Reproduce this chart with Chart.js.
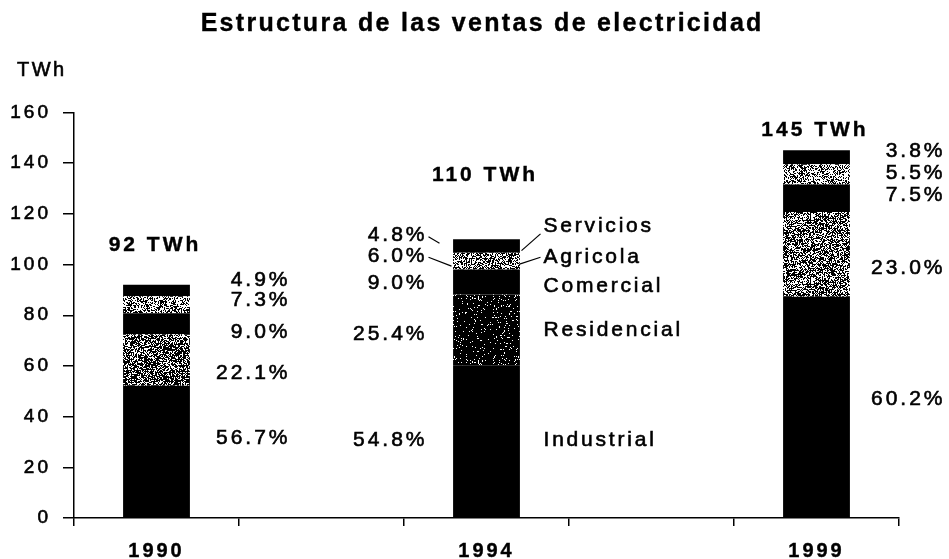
<!DOCTYPE html>
<html>
<head>
<meta charset="utf-8">
<script src="https://cdn.jsdelivr.net/npm/chart.js@4.4.1/dist/chart.umd.min.js"></script>
<style>
    html, body { margin: 0; padding: 0; background: #fff; }
</style>
</head>
<body>
<canvas id="ventasChart" width="949" height="559"></canvas>
<script>
// Datos (TWh por sector), con huecos entre los años
const years = ["1990", "", "1994", "", "1999"];
const totalLabels = ["92 TWh", "", "110 TWh", "", "145 TWh"];
const industrial = [52.2, null, 60.3, null, 87.3];
const residencial = [20.3, null, 27.9, null, 33.4];
const comercial = [8.3, null, 9.9, null, 10.9];
const agricola = [6.7, null, 6.6, null, 8.0];
const servicios = [4.5, null, 5.3, null, 5.5];

// Porcentajes mostrados junto a cada barra
const industrialPct = ["56.7%", "", "54.8%", "", "60.2%"];
const residencialPct = ["22.1%", "", "25.4%", "", "23.0%"];
const comercialPct = ["9.0%", "", "9.0%", "", "7.5%"];
const agricolaPct = ["7.3%", "", "6.0%", "", "5.5%"];
const serviciosPct = ["4.9%", "", "4.8%", "", "3.8%"];
const sectorNames = ["Industrial", "Residencial", "Comercial", "Agricola", "Servicios"];

const yTicks = [0, 20, 40, 60, 80, 100, 120, 140, 160];

// Posicion de las etiquetas (en unidades del eje y) y desplazamiento horizontal
const pctLevels = {
    0: [31.5, 57.1, 73.5, 86.0, 93.9],
    2: [30.8, 72.4, 92.8, 103.3, 111.7],
    4: [47.0, 98.5, 127.5, 136.0, 144.6],
};
const pctOffset = { 0: 131, 2: -62, 4: 126 };
const nameLevels = [30.8, 74.2, 91.6, 103.1, 115.0];
const totalLevels = { 0: 107.7, 2: 135.4, 4: 153.1 };

const canvas = document.getElementById("ventasChart");
const ctx = canvas.getContext("2d");

// Textura moteada para Residencial y Agricola
function speckle(whiteShare, seed) {
    const size = 64;
    const c = document.createElement("canvas");
    c.width = size;
    c.height = size;
    const g = c.getContext("2d");
    const img = g.createImageData(size, size);
    let h = seed;
    for (let i = 0; i < size * size; i++) {
        h = (h * 16807) % 2147483647;
        const v = h / 2147483647 < whiteShare ? 255 : 0;
        img.data[i * 4] = v;
        img.data[i * 4 + 1] = v;
        img.data[i * 4 + 2] = v;
        img.data[i * 4 + 3] = 255;
    }
    g.putImageData(img, 0, 0);
    return ctx.createPattern(c, "repeat");
}

const resFill = [speckle(0.36, 11), null, speckle(0.07, 23), null, speckle(0.42, 37)];
const agrFill = [speckle(0.55, 41), null, speckle(0.5, 53), null, speckle(0.55, 67)];

const FONT = "'Liberation Sans', Arial, sans-serif";

function text(c, str, x, y, size, bold, align, spacing) {
    c.save();
    c.font = (bold ? "bold " : "") + size + "px " + FONT;
    c.letterSpacing = spacing + "px";
    c.fillStyle = "#000";
    c.strokeStyle = "#000";
    c.lineWidth = bold ? 0.4 : 0.6;
    c.textAlign = align;
    c.textBaseline = "middle";
    // compensar el espacio final que agrega letterSpacing
    let dx = 0;
    if (align === "center") dx = spacing / 2;
    if (align === "right") dx = spacing;
    c.fillText(str, x + dx, y);
    c.strokeText(str, x + dx, y);
    c.restore();
}

const labelsPlugin = {
    id: "labelsPlugin",
    beforeDraw(chart) {
        chart.ctx.letterSpacing = "3px";
    },
    afterDraw(chart) {
        const c = chart.ctx;
        const xs = chart.scales.x;
        const ys = chart.scales.y;

        text(c, "Estructura de las ventas de electricidad", 481, 24, 25, true, "center", 2.3);
        text(c, "TWh", 17, 70, 20, false, "left", 2.5);

        const pctSets = [industrialPct, residencialPct, comercialPct, agricolaPct, serviciosPct];
        [0, 2, 4].forEach((i) => {
            const cx = xs.getPixelForValue(i);
            text(c, totalLabels[i], cx - 3, ys.getPixelForValue(totalLevels[i]), 21, true, "center", 3);
            pctSets.forEach((set, k) => {
                text(c, set[i], cx + pctOffset[i], ys.getPixelForValue(pctLevels[i][k]), 21, false, "right", 3);
            });
        });

        // nombres de sectores junto a 1994
        const c94 = xs.getPixelForValue(2);
        sectorNames.forEach((name, k) => {
            text(c, name, c94 + 57, ys.getPixelForValue(nameLevels[k]), 21, false, "left", 2.8);
        });

        // lineas guia
        const leaders = [
            [-58, 111.0, -47, 108.4],
            [-58, 102.9, -35, 99.4],
            [54, 112.1, 35, 105.5],
            [54, 102.9, 33, 100.2],
        ];
        c.save();
        c.strokeStyle = "#000";
        c.lineWidth = 1.2;
        leaders.forEach(([x1, v1, x2, v2]) => {
            c.beginPath();
            c.moveTo(c94 + x1, ys.getPixelForValue(v1));
            c.lineTo(c94 + x2, ys.getPixelForValue(v2));
            c.stroke();
        });
        c.restore();
    },
};

function dataset(label, data, fill) {
    return {
        label: label,
        data: data,
        backgroundColor: fill,
        borderWidth: 0,
        barPercentage: 0.405,
        categoryPercentage: 1.0,
    };
}

new Chart(ctx, {
    type: "bar",
    data: {
        labels: years,
        datasets: [
            dataset("Industrial", industrial, "#000"),
            dataset("Residencial", residencial, resFill),
            dataset("Comercial", comercial, "#000"),
            dataset("Agricola", agricola, agrFill),
            dataset("Servicios", servicios, "#000"),
        ],
    },
    options: {
        responsive: false,
        animation: false,
        events: [],
        layout: { padding: { left: 0, right: 50, top: 112.5, bottom: 0 } },
        plugins: {
            legend: { display: false },
            title: { display: false },
            tooltip: { enabled: false },
        },
        scales: {
            x: {
                stacked: true,
                offset: true,
                afterFit: (scale) => { scale.height = 41; },
                grid: {
                    offset: true,
                    drawOnChartArea: false,
                    drawTicks: true,
                    tickLength: 8,
                    color: "#000",
                    lineWidth: 1.5,
                },
                border: { color: "#000", width: 1.5 },
                ticks: {
                    color: "#000",
                    padding: 13,
                    maxRotation: 0,
                    autoSkip: false,
                    textStrokeColor: "#000",
                    textStrokeWidth: 0.4,
                    font: { family: FONT, size: 20, weight: "bold" },
                },
            },
            y: {
                stacked: true,
                min: 0,
                max: 160,
                afterFit: (scale) => { scale.width = 74; },
                afterBuildTicks: (scale) => {
                    scale.ticks = yTicks.map((v) => ({ value: v }));
                },
                grid: {
                    drawOnChartArea: false,
                    drawTicks: true,
                    tickLength: 11,
                    color: "#000",
                    lineWidth: 1.5,
                },
                border: { color: "#000", width: 1.5 },
                ticks: {
                    color: "#000",
                    padding: 12,
                    textStrokeColor: "#000",
                    textStrokeWidth: 0.6,
                    font: { family: FONT, size: 19 },
                },
            },
        },
    },
    plugins: [labelsPlugin],
});
</script>
</body>
</html>
